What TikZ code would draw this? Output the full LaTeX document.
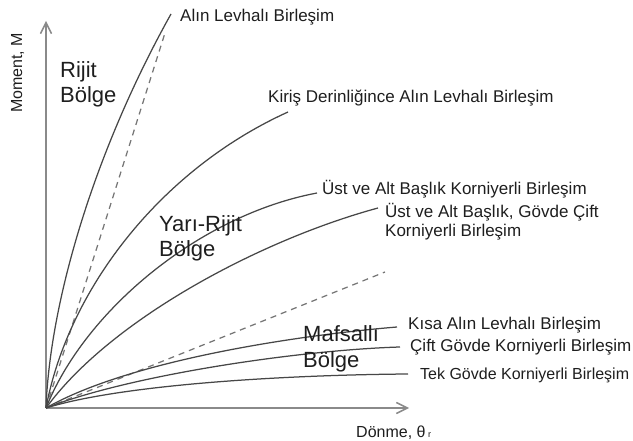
\documentclass[tikz,border=0pt]{standalone}
\usepackage{fontspec}
\setmainfont{Liberation Sans}
\usetikzlibrary{arrows.meta}
\definecolor{axisgray}{HTML}{8A8A8A}
\definecolor{curvegray}{HTML}{474747}
\definecolor{dashgray}{HTML}{767676}
\definecolor{txt}{HTML}{1E1E1E}
\begin{document}
\begin{tikzpicture}[x=1pt,y=-1pt,line join=round,
                    >={Straight Barb[length=11pt,width=11pt]}]
  \tikzstyle{axis}=[draw=axisgray,line width=1.5pt,->]
  \tikzstyle{curve}=[draw=curvegray,line width=1.25pt]
  \tikzstyle{limit}=[draw=dashgray,line width=1.25pt,dash pattern=on 6pt off 5pt]
  \tikzstyle{lbl}=[anchor=base west,inner sep=0pt,text=txt,font=\fontsize{17}{20}\selectfont]
  \tikzstyle{zone}=[anchor=base west,inner sep=0pt,text=txt,align=left,
                    font=\fontsize{22}{25.5}\selectfont]
  \useasboundingbox (0,0) rectangle (633,441);

  % axes
  \coordinate (O)  at (46,408);
  \coordinate (Mt) at (46,21);
  \coordinate (Rt) at (409,408);
  \draw[axis] (O) -- (Mt);
  \draw[axis] (O) -- (Rt);
  \node[lbl,rotate=90,font=\fontsize{16}{19}\selectfont] (M) at (22,113) {Moment, M};
  \node[lbl,font=\fontsize{16}{19}\selectfont] (R) at (356,438)
       {Dönme, θ\,{\fontsize{9}{9}\selectfont r}};

  % curve ends
  \coordinate (E1) at (171,14);
  \coordinate (E2) at (288,112);
  \coordinate (E3) at (317,193);
  \coordinate (E4) at (378,208);
  \coordinate (E5) at (397,327);
  \coordinate (E6) at (400,347);
  \coordinate (E7) at (408,374);
  \coordinate (D1) at (165,33);
  \coordinate (D2) at (385,272);

  % zone limits
  \draw[limit] (O) -- (D1);
  \draw[limit] (O) -- (D2);

  % moment-rotation curves
  \draw[curve] (O) .. controls +(4,-108)  and +(-76,136) .. (E1);
  \draw[curve] (O) .. controls +(22,-118) and +(-128,58) .. (E2);
  \draw[curve] (O) .. controls +(39,-98)  and +(-117,22) .. (E3);
  \draw[curve] (O) .. controls +(64,-88)  and +(-118,32) .. (E4);
  \draw[curve] (O) .. controls +(84,-48)  and +(-97,8)   .. (E5);
  \draw[curve] (O) .. controls +(84,-33)  and +(-100,3)  .. (E6);
  \draw[curve] (O) .. controls +(74,-23)  and +(-128,1)  .. (E7);

  % curve labels (base = last line)
  \node[lbl] (L1) at (180,22)  {Alın Levhalı Birleşim};
  \node[lbl] (L2) at (268,103) {Kiriş Derinliğince Alın Levhalı Birleşim};
  \node[lbl] (L3) at (322,195) {Üst ve Alt Başlık Korniyerli Birleşim};
  \node[lbl,align=left] (L4) at (385,237) {Üst ve Alt Başlık, Gövde Çift\\Korniyerli Birleşim};
  \node[lbl] (L5) at (408,330) {Kısa Alın Levhalı Birleşim};
  \node[lbl] (L6) at (410,352) {Çift Gövde Korniyerli Birleşim};
  \node[lbl,font=\fontsize{16}{19}\selectfont] (L7) at (420,379) {Tek Gövde Korniyerli Birleşim};

  % zones
  \node[zone] (Z1) at (60,103)  {Rijit\\Bölge};
  \node[zone] (Z2) at (159,257) {Yarı-Rijit\\Bölge};
  \node[zone] (Z3) at (303,367) {Mafsallı\\Bölge};
\end{tikzpicture}
\end{document}
